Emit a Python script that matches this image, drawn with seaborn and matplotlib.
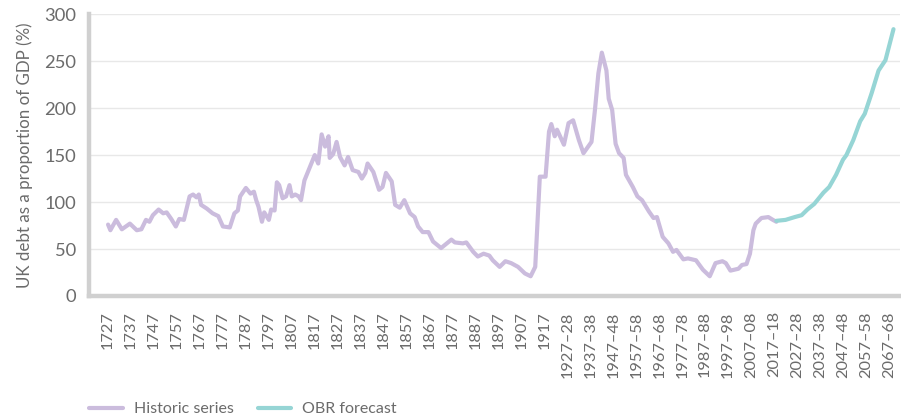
import numpy as np
import pandas as pd
import matplotlib
matplotlib.use("Agg")
import matplotlib.pyplot as plt
import seaborn as sns

# values (year, debt as % of GDP)
hist_years = [
    1727, 1728, 1730.5, 1733, 1736.5, 1739.5, 1741.5, 1743.5, 1745, 1746.5,
    1749, 1751, 1752.5, 1754.5, 1756.5, 1758, 1760, 1762.5, 1764, 1765.5,
    1766.5, 1767.5, 1770, 1772.5, 1775, 1777, 1780, 1782, 1783.5, 1784.5,
    1787, 1789, 1790.5, 1791.5, 1792.5, 1794, 1795, 1797, 1798, 1799.5,
    1800.5, 1801.5, 1803, 1804.5, 1806, 1807, 1808.5, 1810, 1811, 1812.5,
    1815, 1817, 1818.5, 1820, 1821.5, 1823, 1823.5, 1825, 1826.5, 1828,
    1830, 1831.5, 1833.5, 1836, 1837.5, 1839, 1840, 1842.5, 1845, 1846.5,
    1848, 1850.5, 1852, 1854, 1856, 1858.5, 1860.5, 1862, 1864, 1866.5,
    1868.5, 1872, 1876.5, 1878, 1881.5, 1883, 1886, 1888, 1890.5, 1893,
    1894.5, 1897.5, 1900, 1902.5, 1905.5, 1908.5, 1911, 1913, 1915, 1917.5,
    1919, 1920, 1921.5, 1922.5, 1925.5, 1927.5, 1929.5, 1932, 1934, 1937.5,
    1939, 1940.5, 1942, 1944, 1945, 1946.5, 1948, 1949.5, 1951.5, 1952.5,
    1955.5, 1957.5, 1959.5, 1962.5, 1964.5, 1966, 1968.5, 1971, 1973, 1974.5,
    1977.5, 1979.5, 1983, 1986, 1989, 1991.5, 1994.5, 1996, 1998, 2001.5,
    2003, 2005, 2006.5, 2008, 2009, 2011.5, 2014.5, 2016.5, 2018,
]
hist_values = [
    76, 70, 81, 71, 77, 70, 71, 81, 79, 86,
    92, 88, 89, 82, 74, 82, 81, 106, 108, 105,
    108, 97, 93, 88, 85, 74, 73, 88, 91, 106,
    115, 109, 111, 102, 95, 79, 89, 81, 92, 91,
    121, 118, 104, 106, 118, 106, 108, 106, 102, 123,
    138, 150, 141, 172, 159, 170, 147, 151, 164, 148,
    139, 148, 134, 132, 125, 131, 141, 132, 113, 116,
    131, 122, 97, 94, 102, 88, 84, 74, 68, 68,
    58, 51, 60, 57, 56, 57, 47, 42, 45, 43,
    38, 31, 37, 35, 31, 24, 21, 31, 127, 127,
    175, 183, 170, 177, 161, 184, 187, 166, 152, 164,
    198, 237, 259, 240, 210, 198, 162, 152, 147, 129,
    116, 106, 102, 90, 83, 84, 63, 56, 47, 49,
    39, 40, 38, 28, 21, 35, 37, 35, 27, 29,
    33, 34, 45, 70, 77, 83, 84, 81, 79,
]
obr_years = [2018, 2022, 2026, 2029, 2031.5, 2034.5, 2038.5, 2041, 2044, 2047,
             2048.5, 2051.5, 2054.5, 2056.5, 2059.5, 2062.5, 2065.5, 2069]
obr_values = [80, 81, 84, 86, 92, 98, 110, 116, 129, 145,
              150, 166, 186, 194, 216, 240, 251, 284]

tick_years = list(range(1727, 2068, 10))
tick_labels = [str(y) if y <= 1917 else f"{y}\u2013{(y + 1) % 100:02d}" for y in tick_years]

df = pd.concat([
    pd.DataFrame({"year": hist_years, "debt": hist_values, "series": "Historic series"}),
    pd.DataFrame({"year": obr_years, "debt": obr_values, "series": "OBR forecast"}),
])

sns.set_style("white")
plt.rcParams["font.family"] = ["Lato", "DejaVu Sans"]

grey_text = "#6b6b6b"
fig = plt.figure(figsize=(9.01, 4.16), dpi=100)
ax = fig.add_axes([0.0988, 0.2885, 0.9, 0.6775])

sns.lineplot(
    data=df, x="year", y="debt", hue="series", estimator=None, sort=False,
    palette={"Historic series": "#cbbcdd", "OBR forecast": "#96d5d5"},
    linewidth=3, ax=ax, legend=True,
)

ax.set_xlim(1718.7, 2071.8)
ax.set_ylim(0, 300)
ax.set_yticks(range(0, 301, 50))
ax.yaxis.grid(True, color="#e8e8e8", linewidth=1)
ax.xaxis.grid(False)
ax.set_axisbelow(True)

ax.set_xticks(tick_years)
ax.set_xticklabels(tick_labels, rotation=90, fontsize=11.8, color=grey_text)
ax.tick_params(axis="x", length=0, pad=11)
ax.tick_params(axis="y", length=0, pad=9, labelsize=13.2, labelcolor=grey_text)

for s in ["top", "right"]:
    ax.spines[s].set_visible(False)
for s in ["left", "bottom"]:
    ax.spines[s].set_color("#d0d0d0")
    ax.spines[s].set_linewidth(3.2)

ax.set_xlabel("")
ax.set_ylabel("UK debt as a proportion of GDP (%)", fontsize=12.2, color=grey_text, labelpad=8)

handles, labels = ax.get_legend_handles_labels()
ax.get_legend().remove()
leg = fig.legend(
    handles, labels, loc="lower left", bbox_to_anchor=(0.083, -0.035), ncol=2,
    frameon=False, fontsize=11.5, handlelength=2.1, columnspacing=1.5, handletextpad=0.7,
)
for t in leg.get_texts():
    t.set_color(grey_text)

fig.savefig("out.png", dpi=100)
